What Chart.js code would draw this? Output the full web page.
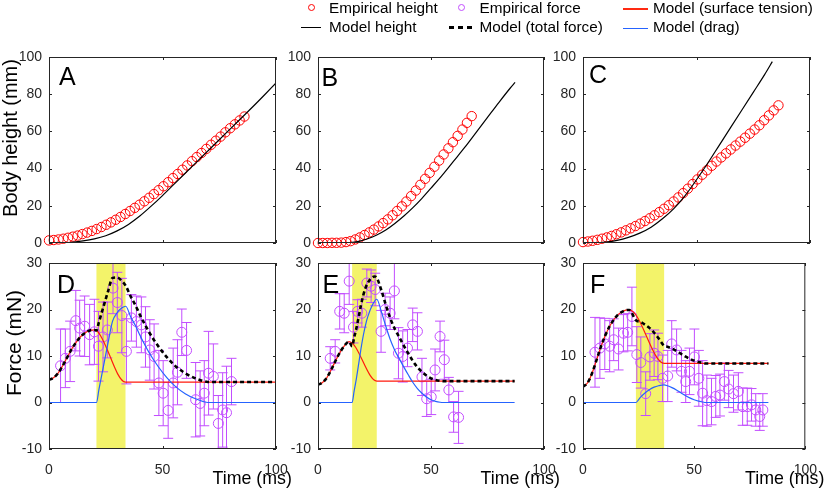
<!DOCTYPE html>
<html><head><meta charset="utf-8">
<script src="https://cdn.jsdelivr.net/npm/chart.js@4/dist/chart.umd.min.js"></script>
<style>
html,body{margin:0;padding:0;background:#fff;}
#wrap{position:relative;width:830px;height:493px;overflow:hidden;font-family:"Liberation Sans",Arial,Helvetica,sans-serif;}
canvas{position:absolute;left:0;top:0;}
.t{position:absolute;white-space:nowrap;line-height:1;color:#000;}
.m{position:absolute;}
.rot{position:absolute;white-space:nowrap;line-height:1;color:#000;transform:translate(-50%,-50%) rotate(-90deg);}
</style></head><body><div id="wrap">
<canvas id="cA" width="830" height="493"></canvas>
<canvas id="cB" width="830" height="493"></canvas>
<canvas id="cC" width="830" height="493"></canvas>
<canvas id="cD" width="830" height="493"></canvas>
<canvas id="cE" width="830" height="493"></canvas>
<canvas id="cF" width="830" height="493"></canvas>

<div class="m" style="left:307.5px;top:4px;width:7px;height:7px;box-sizing:border-box;border:1px solid #ff0000;border-radius:50%;"></div>
<div class="t" style="left:329px;top:0.2px;font-size:15.3px;">Empirical height</div>
<div class="m" style="left:457.5px;top:4px;width:7px;height:7px;box-sizing:border-box;border:1px solid #c24dff;border-radius:50%;"></div>
<div class="t" style="left:479.5px;top:0.2px;font-size:15.3px;">Empirical force</div>
<div class="m" style="left:623px;top:8px;width:25px;height:1.5px;background:#ff2a12;"></div>
<div class="t" style="left:653px;top:0.2px;font-size:15.3px;">Model (surface tension)</div>
<div class="m" style="left:301px;top:26.5px;width:20px;height:1.5px;background:#000;"></div>
<div class="t" style="left:329px;top:18.7px;font-size:15.3px;">Model height</div>
<div class="m" style="left:449px;top:26px;width:5px;height:2.5px;background:#000;"></div>
<div class="m" style="left:458px;top:26px;width:5px;height:2.5px;background:#000;"></div>
<div class="m" style="left:467px;top:26px;width:5px;height:2.5px;background:#000;"></div>
<div class="t" style="left:479.5px;top:18.7px;font-size:15.3px;">Model (total force)</div>
<div class="m" style="left:623px;top:27.5px;width:25px;height:1.5px;background:#2563ff;"></div>
<div class="t" style="left:653px;top:18.7px;font-size:15.3px;">Model (drag)</div>

<div class="rot" style="left:9.9px;top:138px;font-size:20px;">Body height (mm)</div>
<div class="rot" style="left:12.5px;top:342.5px;font-size:21px;">Force (mN)</div>
<div class="t" style="left:212.5px;top:470.4px;font-size:17.8px;">Time (ms)</div>
<div class="t" style="left:480.5px;top:470.4px;font-size:17.8px;">Time (ms)</div>
<div class="t" style="left:745px;top:470.4px;font-size:17.8px;">Time (ms)</div>

<div class="t" style="left:59px;top:63.6px;font-size:25px;">A</div>
<div class="t" style="left:321.5px;top:64.7px;font-size:25px;">B</div>
<div class="t" style="left:589px;top:62px;font-size:25px;">C</div>
<div class="t" style="left:57px;top:271.7px;font-size:25px;">D</div>
<div class="t" style="left:322.5px;top:271.7px;font-size:25px;">E</div>
<div class="t" style="left:590px;top:271.7px;font-size:25px;">F</div>
</div>
<script>
// ---------- DATA ----------
// Panel A (body height)
const timeA = [0,2.1,4.2,6.3,8.4,10.5,12.6,14.7,16.8,18.9,21,23.1,25.2,27.3,29.4,31.5,33.6,35.7,37.8,39.9,42,44.1,46.2,48.3,50.4,52.5,54.6,56.7,58.8,60.9,63,65.1,67.2,69.3,71.4,73.5,75.6,77.7,79.8,81.9,84,86.1];
const heightA = [1.4,1.6,1.9,2.3,2.8,3.4,4.0,4.8,5.6,6.5,7.5,8.6,9.8,11.1,12.5,14.0,15.6,17.2,18.9,20.6,22.4,24.3,26.3,28.4,30.5,32.7,34.9,37.1,39.4,41.7,44.0,46.2,48.4,50.6,52.8,55.0,57.2,59.5,61.7,63.8,65.9,68.0];
const modelA = [[0,0],[5,0.1],[10,0.4],[15,1.1],[20,2.2],[25,3.9],[30,6.5],[35,10],[40,14.5],[45,19.8],[50,25.5],[55,31.5],[60,37.5],[65,43.5],[70,49.5],[75,55.5],[80,61.5],[85,67.5],[90,73.5],[95,79.7],[100,86]];

// Panel B
const timeB = [0,2.1,4.1,6.2,8.2,10.3,12.4,14.4,16.5,18.5,20.6,22.7,24.7,26.8,28.8,30.9,33,35,37.1,39.1,41.2,43.3,45.3,47.4,49.4,51.5,53.6,55.6,57.7,59.7,61.8,63.9,65.9,68];
const heightB = [0,0,0,0.1,0.1,0.2,0.5,1.0,1.9,3.0,4.3,5.7,7.2,8.9,10.7,12.7,14.9,17.2,19.7,22.3,25.2,28.2,31.3,34.5,37.7,41.0,44.3,47.6,50.9,54.2,57.6,61.0,64.6,68.2];
const modelB = [[0,0],[10,0],[14,0.2],[18,0.9],[22,2.3],[26,4.3],[30,7],[34,10.5],[38,14.5],[42,19],[46,24],[50,29.5],[55,36.5],[60,44],[65,51.5],[70,59.5],[75,67.5],[80,75.5],[85,83.2],[87.2,86.3]];

// Panel C
const timeC = [0,2.1,4.2,6.3,8.4,10.5,12.6,14.7,16.8,18.9,21,23.1,25.2,27.3,29.4,31.5,33.6,35.7,37.8,39.9,42,44.1,46.2,48.3,50.4,52.5,54.6,56.7,58.8,60.9,63,65.1,67.2,69.3,71.4,73.5,75.6,77.7,79.8,81.9,84,86.1];
const heightC = [0.5,0.8,1.2,1.7,2.3,3.0,3.8,4.7,5.7,6.8,7.9,9.1,10.4,11.8,13.3,14.9,16.6,18.4,20.3,22.3,24.5,26.8,29.2,31.7,34.2,36.7,39.1,41.5,43.8,46.0,48.2,50.3,52.4,54.5,56.6,58.8,61.0,63.3,66.0,68.6,71.3,74.0];
const modelC = [[0,0],[5,0.1],[10,0.5],[15,1.4],[20,3],[25,5.3],[30,8.5],[35,13],[40,18.5],[45,25.5],[50,34],[55,43],[60,52.5],[65,62],[70,71.5],[75,81],[80,90.5],[83.4,97.5]];

// Panel D (force)
const timeD = [5.1,7.2,9.3,11.8,13.5,15.7,17.9,20,21.8,23.8,25.7,28.2,30.1,32.1,34.1,36.3,38.5,40.7,42.5,44.4,46.3,48.4,50.3,52.5,54.7,56.6,58.5,60.6,64.6,66.6,68.4,70.3,72.4,74.6,76.5,78.2,80.4];
const forceD = [7.9,9.5,11.0,17.6,16.0,16.4,14.6,15.2,12.1,14.1,15.6,24.6,21.5,18.7,11.0,18.2,17.4,16.7,14.1,11.3,9.9,4.2,2.0,-1.7,4.2,6.5,15.1,11.2,0.6,-0.2,2.0,6.3,5.6,-4.5,-1.6,-2.2,4.5];
const errD = [7.9,6.3,6.5,6.5,6.0,6.5,6.5,7.0,7.5,7.5,6.0,5.5,6.5,8.0,7.0,5.0,5.5,6.0,6.5,6.5,7.0,7.0,7.0,6.0,7.5,7.0,5.0,6.0,8.0,7.0,7.0,9.0,7.0,6.0,8.0,10.0,5.0];
const bandD = [20.9,33.7];
const surfaceD = [[0,4.9],[2,5.3],[4,6.3],[6,7.9],[8,9.7],[10,11.5],[12,13.0],[14,14.2],[16,15.0],[18,15.5],[20,15.6],[20.9,15.5],[33.7,4.4],[100,4.4]];
const dragD = [[0,0],[20.9,0],[22,2.8],[24,7.8],[26,12.8],[28,17.5],[30,19.3],[32,20.3],[33.8,20.7],[36,18.4],[38,16.6],[40,14.5],[44,10.8],[48,7.8],[52,5.3],[56,3.3],[60,1.9],[64,0.9],[68,0.2],[70,0],[100,0]];
const totalD = [[0,4.9],[2,5.3],[4,6.3],[6,7.9],[8,9.7],[10,11.5],[12,13.0],[14,14.2],[16,15.0],[18,15.5],[20,15.6],[20.9,15.5],[22,17.3],[24,20.6],[26,23.9],[28,26.8],[30,26.9],[32,26.2],[33.8,25.1],[36,22.8],[38,21.0],[40,18.9],[44,15.2],[48,12.2],[52,9.7],[56,7.7],[60,6.3],[64,5.3],[68,4.6],[70,4.4],[100,4.4]];

// Panel E
const timeE = [5.4,7.6,9.6,11.6,13.8,15.7,17.5,19.4,21.6,23.5,25.3,27.9,29.7,31.9,33.8,35.6,37.5,39.6,41.9,44.0,46.0,48.1,50.1,51.8,54.0,55.9,57.9,60.0,62.2];
const forceE = [9.5,11.0,19.6,19.2,26.1,16.2,19.6,19.2,25.7,25.0,24.3,15.3,20.0,19.2,24.0,10.6,9.9,11.7,16.7,15.3,5.5,0.8,1.2,7.0,14.2,9.2,2.7,-3.1,-3.2];
const errE = [2.5,2.5,3.8,4.2,5.0,3.4,2.5,3.0,3.0,3.5,3.5,4.5,3.5,3.5,6.0,5.5,5.5,4.0,3.6,4.0,4.0,3.8,3.8,4.5,3.3,4.2,2.7,3.3,5.6];
const bandE = [15.1,26.0];
const surfaceE = [[0,3.8],[2,4.3],[4,5.4],[6,7.2],[8,9.2],[10,11.0],[12,12.4],[13.7,13.1],[26,4.6],[87,4.6]];
const dragE = [[0,0],[15.1,0],[16,2.5],[17,5.2],[18,8.3],[19,11.5],[20,14.3],[21,16.6],[22,18.4],[24,20.9],[26,22.2],[28,19.6],[30,16.4],[32,13.5],[34,11.2],[36,9.4],[38,7.6],[40,5.9],[42,4.3],[44,3.0],[46,2.0],[48,1.2],[50,0.6],[52,0.25],[54,0.05],[55.5,0],[87,0]];
const totalE = [[0,3.8],[2,4.3],[4,5.4],[6,7.2],[8,9.2],[10,11.0],[12,12.4],[13.7,13.1],[15.1,12.1],[16,14.0],[17,16.0],[18,18.4],[19,20.9],[20,23.0],[21,24.6],[22,25.7],[24,26.9],[25,27.1],[26,26.8],[28,24.2],[30,21.0],[32,18.1],[34,15.8],[36,14.0],[38,12.2],[40,10.5],[42,8.9],[44,7.6],[46,6.6],[48,5.8],[50,5.2],[52,4.85],[54,4.65],[55.5,4.6],[87,4.6]];

// Panel F
const timeF = [5.4,7.6,9.8,12.0,13.8,16.0,18.2,20.1,22.0,24.2,26.0,28.2,30.1,32.0,33.7,35.8,38.1,39.9,42.1,44.3,46.2,47.9,50.1,52.1,53.8,55.7,57.8,59.7,61.6,63.6,65.5,67.7,69.9,71.8,73.9,75.8,77.7,79.5,80.9];
const forceF = [10.8,11.7,12.6,12.1,13.5,11.5,14.9,15.1,18.5,10.3,8.6,1.9,9.8,10.6,9.9,5.2,5.7,12.6,11.3,6.7,4.5,6.7,9.8,5.2,2.0,0.4,0.2,1.3,1.6,4.5,2.9,1.9,2.4,-0.9,-0.9,-0.5,-1.6,-3.0,-1.6];
const errF = [7.5,6.5,5.5,5.5,4.5,4.5,4.0,4.0,6.3,6.0,5.5,4.7,5.0,5.0,5.0,5.0,5.5,5.0,4.5,4.5,4.5,5.0,6.0,6.0,7.0,5.5,5.0,4.5,4.5,4.0,4.0,4.0,4.0,4.0,4.0,3.5,3.5,3.0,3.5];
const bandF = [23.8,36.5];
const surfaceF = [[0,3.4],[2,4.2],[4,6.2],[6,9.0],[8,11.9],[10,14.4],[12,16.4],[14,17.9],[16,19.0],[18,19.6],[20,19.9],[20.8,19.9],[36.5,8.4],[83.4,8.4]];
const dragF = [[0,0],[23.8,0],[25,0.6],[26,1.2],[28,2.1],[30,2.8],[32,3.3],[34,3.6],[36.5,3.8],[38,3.6],[40,3.2],[42,2.7],[44,2.1],[46,1.5],[48,1.0],[50,0.6],[52,0.3],[54,0.1],[55,0],[83.4,0]];
const totalF = [[0,3.4],[2,4.2],[4,6.2],[6,9.0],[8,11.9],[10,14.4],[12,16.4],[14,17.9],[16,19.0],[18,19.6],[20,19.9],[20.8,19.9],[23.8,17.7],[26,17.3],[28,16.7],[30,16.0],[32,15.0],[34,13.8],[36.5,12.2],[38,12.0],[40,11.6],[42,11.1],[44,10.5],[46,9.9],[48,9.4],[50,9.0],[52,8.7],[54,8.5],[55,8.4],[83.4,8.4]];

// Axis ticks
const timeTicks = [0, 50, 100];
const heightRange = [0, 100, 20];
const forceRange = [-10, 30, 10];

// ---------- DRAWING ----------
Chart.defaults.font.family = '"Liberation Sans", Arial, Helvetica, sans-serif';
Chart.defaults.animation = false;
const AXIS = '#262626', RED_PT = '#ff0000', PURPLE = '#c24dff', RED_LN = '#ff1a0d', BLUE_LN = '#2563ff', BAND = '#f3f36a';

const panelPlugin = {
  id: 'panel',
  beforeDatasetsDraw(chart, args, o) {
    const {ctx, chartArea: a} = chart; const xs = chart.scales.x, ys = chart.scales.y;
    ctx.save();
    ctx.beginPath(); ctx.rect(a.left, a.top, a.right - a.left, a.bottom - a.top); ctx.clip();
    if (o.band) {
      const x0 = xs.getPixelForValue(o.band[0]), x1 = xs.getPixelForValue(o.band[1]);
      ctx.fillStyle = BAND; ctx.fillRect(x0, a.top, x1 - x0, a.bottom - a.top);
    }
    if (o.err) {
      const [t, v, e] = o.err;
      ctx.strokeStyle = PURPLE; ctx.lineWidth = 1;
      for (let i = 0; i < t.length; i++) {
        const px = xs.getPixelForValue(t[i]);
        const lo = ys.getPixelForValue(v[i] - e[i]), hi = ys.getPixelForValue(v[i] + e[i]);
        ctx.beginPath();
        ctx.moveTo(px, lo); ctx.lineTo(px, hi);
        ctx.moveTo(px - 5, lo); ctx.lineTo(px + 5, lo);
        ctx.moveTo(px - 5, hi); ctx.lineTo(px + 5, hi);
        ctx.stroke();
      }
    }
    ctx.restore();
  },
  afterDatasetsDraw(chart) {
    const {ctx, chartArea: a} = chart; const xs = chart.scales.x, ys = chart.scales.y;
    ctx.save();
    ctx.strokeStyle = AXIS; ctx.lineWidth = 1;
    ctx.strokeRect(a.left + 0.5, a.top + 0.5, a.right - a.left - 1, a.bottom - a.top - 1);
    ctx.beginPath();
    xs.ticks.forEach(tk => {
      const px = Math.round(xs.getPixelForValue(tk.value)) + 0.5;
      ctx.moveTo(px, a.bottom); ctx.lineTo(px, a.bottom - 3);
      ctx.moveTo(px, a.top); ctx.lineTo(px, a.top + 3);
    });
    ys.ticks.forEach(tk => {
      const py = Math.round(ys.getPixelForValue(tk.value)) + 0.5;
      ctx.moveTo(a.left, py); ctx.lineTo(a.left + 3, py);
      ctx.moveTo(a.right, py); ctx.lineTo(a.right - 3, py);
    });
    ctx.stroke();
    ctx.restore();
  }
};

const xy = (xs, ys) => xs.map((x, i) => ({x: x, y: ys[i]}));
const pairs = p => p.map(q => ({x: q[0], y: q[1]}));
const lineDs = (data, color, width, dash) => ({data: pairs(data), showLine: true, pointRadius: 0, borderColor: color, borderWidth: width, borderDash: dash || [], cubicInterpolationMode: 'monotone', fill: false});
const ptDs = (xs, ys, color, r) => ({data: xy(xs, ys), showLine: false, pointRadius: r, pointStyle: 'circle', pointBorderColor: color, pointBackgroundColor: 'rgba(0,0,0,0)', pointBorderWidth: 1, borderColor: color, backgroundColor: 'rgba(0,0,0,0)', clip: false});

function makeChart(id, area, cfg) {
  const YW = 45, XH = cfg.showX ? 30 : 0;
  new Chart(document.getElementById(id), {
    type: 'scatter',
    data: {datasets: cfg.datasets},
    options: {
      responsive: false, animation: false, devicePixelRatio: 1,
      events: [],
      layout: {padding: {left: area.l - YW, right: 830 - area.r, top: area.t, bottom: 493 - area.b - XH}},
      plugins: {legend: {display: false}, tooltip: {enabled: false}, panel: {band: cfg.band, err: cfg.err}},
      scales: {
        x: {type: 'linear', position: 'bottom', min: timeTicks[0], max: timeTicks[timeTicks.length - 1],
            afterBuildTicks: s => { s.ticks = timeTicks.map(v => ({value: v})); },
            ticks: {display: cfg.showX, color: AXIS, font: {size: 14}, padding: 13, maxRotation: 0, autoSkip: false},
            grid: {display: false, drawTicks: false}, border: {display: false},
            afterFit: s => { s.height = XH; }},
        y: {type: 'linear', min: cfg.yr[0], max: cfg.yr[1],
            ticks: {stepSize: cfg.yr[2], color: AXIS, font: {size: 14}, padding: 7},
            grid: {display: false, drawTicks: false}, border: {display: false},
            afterFit: s => { s.width = YW; }}
      }
    },
    plugins: [panelPlugin]
  });
}

const cols = [{l: 49, r: 276}, {l: 318, r: 544}, {l: 583, r: 810}];
const topRow = {t: 57, b: 243}, botRow = {t: 263, b: 449};
const area = (c, r) => ({l: c.l, r: c.r, t: r.t, b: r.b});

makeChart('cA', area(cols[0], topRow), {showX: false, yr: heightRange, datasets: [lineDs(modelA, '#000', 1.2), ptDs(timeA, heightA, RED_PT, 4.7)]});
makeChart('cB', area(cols[1], topRow), {showX: false, yr: heightRange, datasets: [lineDs(modelB, '#000', 1.2), ptDs(timeB, heightB, RED_PT, 4.7)]});
makeChart('cC', area(cols[2], topRow), {showX: false, yr: heightRange, datasets: [lineDs(modelC, '#000', 1.2), ptDs(timeC, heightC, RED_PT, 4.7)]});

const forceSets = (tot, drag, surf, t, f) => [
  lineDs(tot, '#000', 2.6, [4, 3]),
  lineDs(drag, BLUE_LN, 1.2),
  lineDs(surf, RED_LN, 1.2),
  ptDs(t, f, PURPLE, 5)
];
makeChart('cD', area(cols[0], botRow), {showX: true, yr: forceRange, band: bandD, err: [timeD, forceD, errD], datasets: forceSets(totalD, dragD, surfaceD, timeD, forceD)});
makeChart('cE', area(cols[1], botRow), {showX: true, yr: forceRange, band: bandE, err: [timeE, forceE, errE], datasets: forceSets(totalE, dragE, surfaceE, timeE, forceE)});
makeChart('cF', area(cols[2], botRow), {showX: true, yr: forceRange, band: bandF, err: [timeF, forceF, errF], datasets: forceSets(totalF, dragF, surfaceF, timeF, forceF)});
</script></body></html>
